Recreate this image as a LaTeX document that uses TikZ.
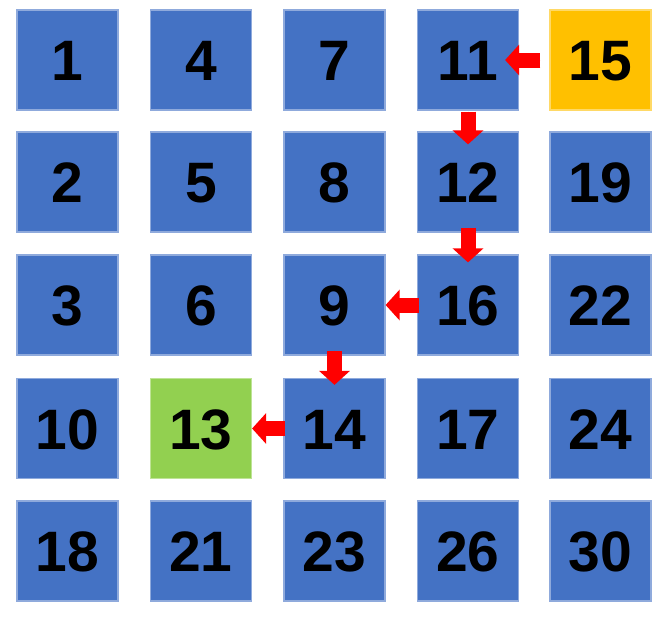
\documentclass[tikz,border=0pt]{standalone}
\usepackage{fontspec}
\setmainfont{Liberation Sans}
\usetikzlibrary{arrows.meta}
\definecolor{cblue}{HTML}{4472C4}
\definecolor{corange}{HTML}{FFC000}
\definecolor{cgreen}{HTML}{92D050}
\definecolor{cred}{HTML}{FF0000}
\tikzset{
  cell/.style={fill=cblue, draw=cblue!60, line width=1.2pt, minimum width=101pt, minimum height=100pt,
    inner sep=0pt, text height=41pt, text depth=0pt,
    font=\fontsize{57}{60}\selectfont\bfseries, text=black},
  blockarrow/.style={draw=cred, line width=15pt, -{Triangle[width=30pt,length=14pt]}, fill=cred}
}
\begin{document}
\begin{tikzpicture}[x=1pt,y=-1pt]
\useasboundingbox (0,0) rectangle (669,622);
% columns: 67.5, 201, 334.5, 468, 600.5 ; rows: 60, 182, 305, 428.5, 551
\node[cell] (b1)  at (67.5,60) {1};
\node[cell] (b4)  at (201,60) {4};
\node[cell] (b7)  at (334.5,60) {7};
\node[cell] (b11) at (468,60) {11};
\node[cell, fill=corange, draw=corange!60] (b15) at (600.5,60) {15};
\node[cell] (b2)  at (67.5,182) {2};
\node[cell] (b5)  at (201,182) {5};
\node[cell] (b8)  at (334.5,182) {8};
\node[cell] (b12) at (468,182) {12};
\node[cell] (b19) at (600.5,182) {19};
\node[cell] (b3)  at (67.5,305) {3};
\node[cell] (b6)  at (201,305) {6};
\node[cell] (b9)  at (334.5,305) {9};
\node[cell] (b16) at (468,305) {16};
\node[cell] (b22) at (600.5,305) {22};
\node[cell] (b10) at (67.5,428.5) {10};
\node[cell, fill=cgreen, draw=cgreen!60] (b13) at (201,428.5) {13};
\node[cell] (b14) at (334.5,428.5) {14};
\node[cell] (b17) at (468,428.5) {17};
\node[cell] (b24) at (600.5,428.5) {24};
\node[cell] (b18) at (67.5,551) {18};
\node[cell] (b21) at (201,551) {21};
\node[cell] (b23) at (334.5,551) {23};
\node[cell] (b26) at (468,551) {26};
\node[cell] (b30) at (600.5,551) {30};
% path arrows
\draw[blockarrow] ([xshift=-9pt]b15.west) -- ([xshift=-14pt]b11.east);
\draw[blockarrow] ([yshift=-1pt]b11.south) -- ([yshift=-13pt]b12.north);
\draw[blockarrow] ([yshift=5pt]b12.south) -- ([yshift=-8pt]b16.north);
\draw[blockarrow] ([xshift=2pt]b16.west) -- ([xshift=0pt]b9.east);
\draw[blockarrow] ([yshift=5pt]b9.south) -- ([yshift=-7pt]b14.north);
\draw[blockarrow] ([xshift=2pt]b14.west) -- ([xshift=0pt]b13.east);
\end{tikzpicture}
\end{document}
